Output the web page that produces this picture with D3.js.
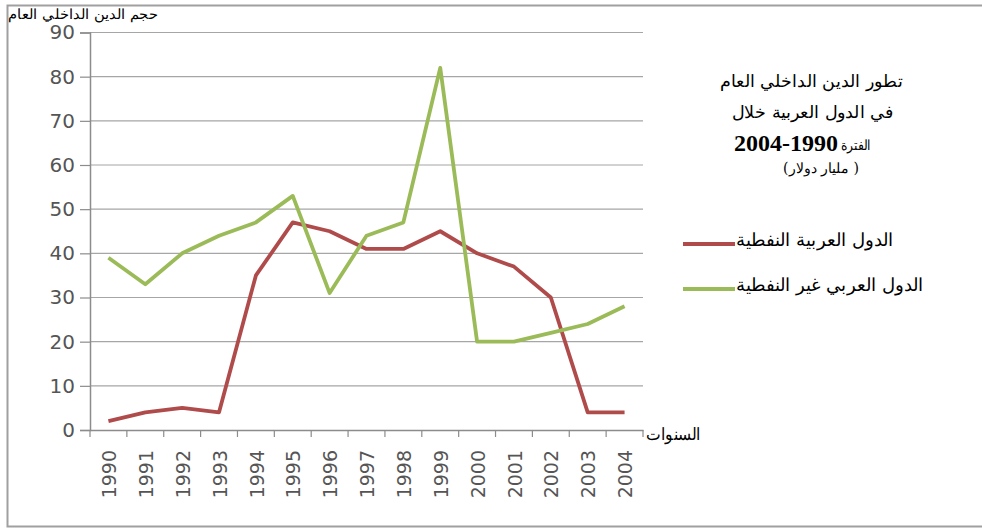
<!DOCTYPE html>
<html><head><meta charset="utf-8">
<script src="https://cdn.jsdelivr.net/npm/d3@7"></script>
<style>body{margin:0;background:#fff}svg{display:block}</style>
</head><body>
<svg id="c" width="982" height="529"></svg>
<script>
const years = ["1990","1991","1992","1993","1994","1995","1996","1997","1998","1999","2000","2001","2002","2003","2004"];
const oilStates = [2,4,5,4,35,47,45,41,41,45,40,37,30,4,4];
const nonOilStates = [39,33,40,44,47,53,31,44,47,82,20,20,22,24,28];
const yTicks = [0,10,20,30,40,50,60,70,80,90];
const seriesNames = ["الدول العربية النفطية","الدول العربي غير النفطية"];
const seriesColors = ["#b04b4b","#9bbb59"];
const yTitle = "حجم الدين الداخلي العام";
const xTitle = "السنوات";
const titleLines = ["تطور الدين الداخلي العام","في الدول العربية خلال"];
const titlePeriodWord = "الفترة";
const titlePeriod = "2004-1990";
const titleUnit = "( مليار دولار)";

const svg = d3.select("#c");
const L = 90, R = 643, T = 32.5, B = 430;
const x = d3.scaleBand().domain(years).range([L, R]);
const y = d3.scaleLinear().domain([0, 90]).range([B, T]);

// outer border
svg.append("path").attr("d","M982,5.5 H7.5 V526.5 H982").attr("fill","none").attr("stroke","#a0a0a0").attr("stroke-width",2);

// gridlines
svg.append("g").selectAll("line").data(yTicks.filter(d=>d>0)).join("line")
  .attr("x1", L).attr("x2", R).attr("y1", d=>y(d)).attr("y2", d=>y(d))
  .attr("stroke","#a6a6a6").attr("stroke-width",1.2);

// y axis
const yAxis = svg.append("g").attr("transform",`translate(${L},0)`)
  .call(d3.axisLeft(y).tickValues(yTicks).tickSize(10).tickPadding(5));
yAxis.select(".domain").attr("stroke","#8c8c8c").attr("stroke-width",1.5);
yAxis.selectAll(".tick line").attr("stroke","#8c8c8c").attr("stroke-width",1.2);
yAxis.selectAll("text").attr("font-family","DejaVu Sans, sans-serif").attr("font-size",20).attr("fill","#555");

// x axis
const xAxis = svg.append("g").attr("transform",`translate(0,${B})`)
  .call(d3.axisBottom(x).tickSize(0).tickPadding(0));
xAxis.select(".domain").attr("stroke","#8c8c8c").attr("stroke-width",1.5);
xAxis.selectAll(".tick text")
  .attr("font-family","DejaVu Sans, sans-serif").attr("font-size",19).attr("fill","#555")
  .attr("transform","rotate(-90)").attr("text-anchor","end").attr("dy","0.35em").attr("x",-20).attr("y",1);
const bounds = years.map(d=>x(d)).concat([R]);
svg.append("g").selectAll("line").data(bounds).join("line")
  .attr("x1",d=>d).attr("x2",d=>d).attr("y1",B).attr("y2",B+7)
  .attr("stroke","#8c8c8c").attr("stroke-width",1.2);

// lines
const line = d3.line().x((d,i)=>x(years[i])+x.bandwidth()/2).y(d=>y(d));
[oilStates, nonOilStates].forEach((s,i)=>{
  svg.append("path").datum(s).attr("d",line).attr("fill","none")
    .attr("stroke",seriesColors[i]).attr("stroke-width",3.8).attr("stroke-linejoin","round");
});

// axis titles
svg.append("text").attr("x",8).attr("y",19).attr("font-family","DejaVu Serif, serif").attr("font-size",14)
  .attr("fill","#000").attr("textLength",150).attr("lengthAdjust","spacingAndGlyphs").text(yTitle);
svg.append("text").attr("x",646).attr("y",440).attr("font-family","DejaVu Serif, serif").attr("font-size",17)
  .attr("fill","#000").attr("textLength",55).attr("lengthAdjust","spacingAndGlyphs").text(xTitle);

// chart title block
const tf = "DejaVu Serif, serif";
svg.append("text").attr("x",720).attr("y",87).attr("font-family",tf).attr("font-size",17)
  .attr("textLength",183).attr("lengthAdjust","spacingAndGlyphs").text(titleLines[0]);
svg.append("text").attr("x",732).attr("y",118).attr("font-family",tf).attr("font-size",17)
  .attr("textLength",161).attr("lengthAdjust","spacingAndGlyphs").text(titleLines[1]);
svg.append("text").attr("x",838).attr("y",151).attr("text-anchor","end").attr("font-family","Liberation Serif, serif").attr("font-weight","bold").attr("font-size",24).text(titlePeriod);
svg.append("text").attr("x",841).attr("y",150).attr("font-family",tf).attr("font-size",14)
  .attr("textLength",30).attr("lengthAdjust","spacingAndGlyphs").text(titlePeriodWord);
svg.append("text").attr("x",821).attr("y",173).attr("text-anchor","middle").attr("direction","rtl").attr("font-family",tf).attr("font-size",14).text(titleUnit);

// legend
const legY = [244, 289];
const legEnd = [893, 923];
seriesNames.forEach((n,i)=>{
  svg.append("line").attr("x1",683).attr("x2",735).attr("y1",legY[i]).attr("y2",legY[i])
    .attr("stroke",seriesColors[i]).attr("stroke-width",3.8);
  svg.append("text").attr("x",736).attr("y",legY[i]+2).attr("text-anchor","start")
    .attr("font-family",tf).attr("font-size",18).attr("textLength",legEnd[i]-736).attr("lengthAdjust","spacingAndGlyphs").text(n);
});
</script>
</body></html>
